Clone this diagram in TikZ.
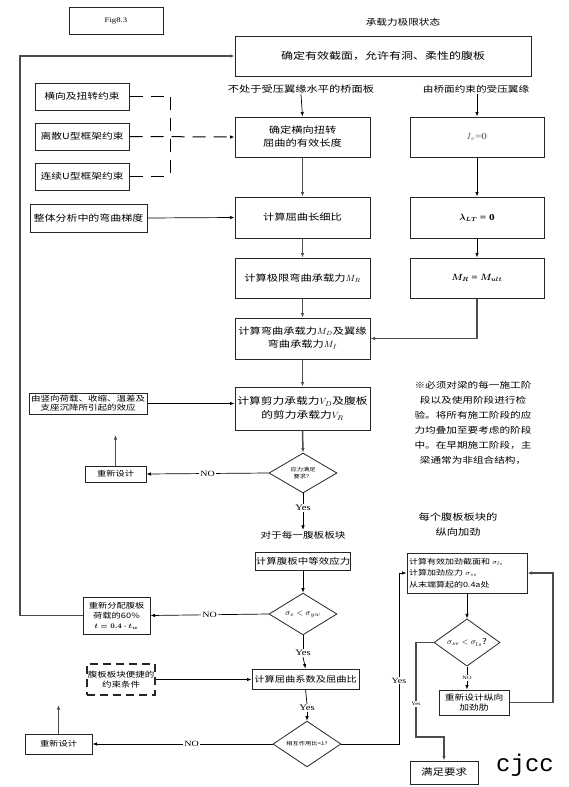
\documentclass[tikz,border=0pt]{standalone}
\usepackage{amsmath}
\usepackage{fontspec}
\setmainfont{Noto Sans CJK SC}[FakeStretch=1.25]
\newfontfamily\lat{Liberation Serif}[FakeStretch=1.25]
\newfontfamily\mono{Liberation Mono}
\usetikzlibrary{arrows.meta,shapes.geometric}
\newcommand\fsz[2]{\fontsize{#1}{#2}\selectfont}
\begin{document}
\begin{tikzpicture}[x=1pt,y=-1pt,
  box/.style={draw=black!85, line width=1pt, align=center, inner sep=0pt, fill=white},
  dbox/.style={box, dashed, dash pattern=on 8pt off 5pt, line width=1.2pt},
  dia/.style={draw=black!85, line width=0.8pt, diamond, inner sep=0pt, align=center, fill=white},
  lbl/.style={align=center, inner sep=1pt},
  onl/.style={fill=white, inner sep=1pt, font=\lat\fsz{8}{9}},
  tk/.style={draw=black!70, line width=1.5pt},
  tn/.style={draw=black, line width=0.7pt},
  arr/.style={-{Latex[length=4.5pt,width=3.5pt]}},
  dsh/.style={draw=black, line width=1pt, dash pattern=on 13pt off 8pt}
]
\useasboundingbox (0,0) rectangle (568,787);
% header
\node[box, minimum width=94pt, minimum height=27pt, line width=0.7pt, font=\lat\fsz{7}{8}] (fig) at (116,20.5) {Fig8.3};
\node[lbl, font=\fsz{8.5}{10}] (title) at (403,22) {承载力极限状态};
\node[box, minimum width=296pt, minimum height=40pt, font=\fsz{9.6}{12}] (top) at (383,56) {确定有效截面，允许有洞、柔性的腹板};
\node[lbl, font=\fsz{9}{11}] (lab1) at (301,89) {不处于受压翼缘水平的桥面板};
\node[lbl, font=\fsz{8.5}{11}] (lab2) at (476,89) {由桥面约束的受压翼缘};
% left constraint boxes
\node[box, minimum width=94pt, minimum height=27pt, font=\fsz{8.6}{10}] (c1) at (82,96.5) {横向及扭转约束};
\node[box, minimum width=94pt, minimum height=27pt, font=\fsz{8.6}{10}] (c2) at (82,136.5) {离散U型框架约束};
\node[box, minimum width=94pt, minimum height=27pt, font=\fsz{8.6}{10}] (c3) at (82,176.5) {连续U型框架约束};
% main column
\node[box, minimum width=135pt, minimum height=40pt, font=\fsz{9}{13}] (eff) at (302.5,137) {确定横向扭转\\屈曲的有效长度};
\node[box, minimum width=134pt, minimum height=40pt, font=\lat\fsz{9}{11}, text=black!70] (ie) at (477,137) {$I_{e}$=0};
\node[box, minimum width=117pt, minimum height=28pt, font=\fsz{8.8}{10}] (grad) at (88.5,218) {整体分析中的弯曲梯度};
\node[box, minimum width=135pt, minimum height=41pt, font=\fsz{9}{11}] (slen) at (302.5,217.5) {计算屈曲长细比};
\node[box, minimum width=134pt, minimum height=41pt, font=\fsz{9}{11}] (lam) at (477,217.5) {$\boldsymbol{\lambda_{LT}}$ \textbf{\lat = 0}};
\node[box, minimum width=135pt, minimum height=40pt, font=\fsz{9}{11}] (mr) at (302.5,278) {计算极限弯曲承载力$M_{R}$};
\node[box, minimum width=134pt, minimum height=40pt, font=\fsz{9}{11}] (mru) at (477,278) {$\boldsymbol{M_{R}}$ \textbf{\lat =} $\boldsymbol{M_{ult}}$};
\node[box, minimum width=135pt, minimum height=41pt, font=\fsz{9}{13}] (md) at (302.5,338.5) {计算弯曲承载力$M_{D}$及翼缘\\弯曲承载力$M_{f}$};
\node[box, minimum width=135pt, minimum height=43pt, font=\fsz{9.4}{14}] (vd) at (302.5,408.5) {计算剪力承载力$V_{D}$及腹板\\的剪力承载力$V_{R}$};
\node[box, minimum width=118pt, minimum height=21pt, font=\fsz{7.6}{9}] (load) at (88,403.5) {由竖向荷载、收缩、温差及\\支座沉降所引起的效应};
\node[lbl, font=\fsz{8.5}{15}] (note) at (473,422.5) {※必须对梁的每一施工阶\\段以及使用阶段进行检\\验。将所有施工阶段的应\\力均叠加至要考虑的阶段\\中。在早期施工阶段，主\\梁通常为非组合结构，};
% first check
\node[dia, minimum width=68pt, minimum height=40pt, font=\fsz{5}{7}] (d1) at (303,473) {应力满足\\要求？};
\node[box, minimum width=61pt, minimum height=16pt, font=\fsz{7.4}{9}] (rd1) at (115.5,474) {重新设计};
\coordinate (up1) at (115.5,435);
\node[lbl, font=\lat\fsz{8.5}{10}] (yes1) at (303,508) {Yes};
\node[lbl, font=\fsz{8.5}{10}] (each) at (303,535) {对于每一腹板板块};
\node[lbl, font=\fsz{9}{15}] (lst) at (458,524.5) {每个腹板板块的\\纵向加劲};
\node[box, minimum width=94pt, minimum height=18pt, font=\fsz{8.4}{10}] (eq) at (303,561) {计算腹板中等效应力};
\node[dia, minimum width=68pt, minimum height=38pt, font=\fsz{8}{9}] (d2) at (303,614) {$\sigma_{e} < \sigma_{yw}$};
\node[box, minimum width=67pt, minimum height=37pt, font=\fsz{7.4}{10}] (redist) at (116.5,615.5) {重新分配腹板\\荷载的60\%\\$\boldsymbol{t = 0.4\cdot t_{w}}$};
\coordinate (lp1) at (20,615.5);
\coordinate (lp2) at (20,56);
% stiffener part
\node[box, minimum width=120pt, minimum height=40pt, align=left, text width=116pt, font=\fsz{7.2}{11.5}] (stf) at (467,573) {计算有效加劲截面和 $\sigma_{ls}$\\计算加劲应力 $\sigma_{se}$\\从末端算起的0.4a处};
\node[dia, minimum width=66pt, minimum height=39pt, font=\fsz{8}{9}] (d3) at (467,642.5) {$\sigma_{se} < \sigma_{ls}$?};
\node[box, minimum width=70pt, minimum height=25pt, font=\fsz{7.8}{10.5}] (rst) at (474,702.5) {重新设计纵向\\加劲肋};
\node[box, minimum width=68pt, minimum height=23pt, font=\fsz{9.2}{11}] (ok) at (444,772.5) {满足要求};
\coordinate (s1) at (416,642.5);
\coordinate (s2) at (416,737);
\coordinate (s3) at (444,737);
\coordinate (r1) at (553,702.5);
\coordinate (r2) at (553,573);
% bottom part
\node[lbl, font=\lat\fsz{8.5}{10}] (yes2) at (303,653) {Yes};
\node[dbox, minimum width=68pt, minimum height=31pt, font=\fsz{7.6}{10.5}] (cond) at (121,679.5) {腹板板块便捷的\\约束条件};
\node[box, minimum width=107pt, minimum height=20pt, font=\fsz{8.2}{10}] (buck) at (305.5,679) {计算屈曲系数及屈曲比};
\node[lbl, font=\lat\fsz{8.5}{10}] (yes4) at (307,708) {Yes};
\node[dia, minimum width=68pt, minimum height=38pt, font=\fsz{5}{7}] (d4) at (307,744) {相互作用比<1?};
\node[box, minimum width=67pt, minimum height=20pt, font=\fsz{7.4}{9}] (rd2) at (58.5,744) {重新设计};
\coordinate (up2) at (58.5,705);
\coordinate (y1) at (399,744);
\coordinate (y2) at (399,573);
\node[lbl, font=\mono\fsz{24}{26}] (cj) at (525,765) {cjcc};
% dashed constraint links
\coordinate (v1) at (170,96.5);
\coordinate (v2) at (170,176.5);
\draw[dsh] (c1.east) -- (v1);
\draw[dsh] (c3.east) -- (v2);
\draw[dsh] (v1) -- (v2);
\draw[dsh, arr] (c2.east) -- (eff.west);
% connectors
\draw[tk, arr] (redist.west) -- (lp1) -- (lp2) -- (top.west);
\draw[tn, arr] (lab1.south) -- (eff.north);
\draw[tn, arr] (lab2.south -| ie.north) -- (ie.north);
\draw[tk, arr] (eff.south) -- (slen.north);
\draw[tn, arr] (ie.south) -- (lam.north);
\draw[tn, arr] (grad.east) -- (slen.west);
\draw[tk, arr] (slen.south) -- (mr.north);
\draw[tn, arr] (lam.south) -- (mru.south |- mru.north);
\draw[tk, arr] (mr.south) -- (md.north);
\draw[tk, arr] (mru.south) -- (mru.south |- md.east) -- (md.east);
\draw[tk, arr] (md.south) -- (vd.north);
\draw[tn, arr] (load.east) -- (load.east -| vd.west);
\draw[tk, arr] (vd.south) -- (d1.north);
\draw[tn, arr] (d1.west) -- node[onl] {NO} (rd1.east);
\draw[tk, arr] (rd1.north) -- (up1);
\draw[tn] (d1.south) -- (yes1.north);
\draw[tn, arr] (yes1.south) -- (each.north);
\draw[tn, arr] (eq.south) -- (d2.north);
\draw[tn, arr] (d2.west) -- node[onl] {NO} (redist.east);
\draw[tn] (d2.south) -- (yes2.north);
\draw[tn, arr] (yes2.south) -- (buck.north);
\draw[tn, arr] (cond.east) -- (cond.east -| buck.west);
\draw[tn] (buck.south) -- (yes4.north);
\draw[tn, arr] (yes4.south) -- (d4.north);
\draw[tn, arr] (d4.west) -- node[onl, pos=0.45] {NO} (rd2.east);
\draw[tk, arr] (rd2.north) -- (up2);
\draw[tn, arr] (d4.east) -- (y1) -- node[onl, pos=0.37] {Yes} (y2) -- (stf.west);
\draw[tn, arr] (stf.south) -- (d3.north);
\draw[tn, arr] (d3.south) -- node[onl, font=\lat\fsz{5}{6}] {NO} (rst.north -| d3.south);
\draw[tk, arr] (d3.west) -- (s1) -- node[onl, font=\lat\fsz{5}{6}, pos=0.65] {Yes} (s2) -- (s3) -- (ok.north);
\draw[tk, arr] (rst.east) -- (r1) -- (r2) -- (stf.east);
\end{tikzpicture}
\end{document}
